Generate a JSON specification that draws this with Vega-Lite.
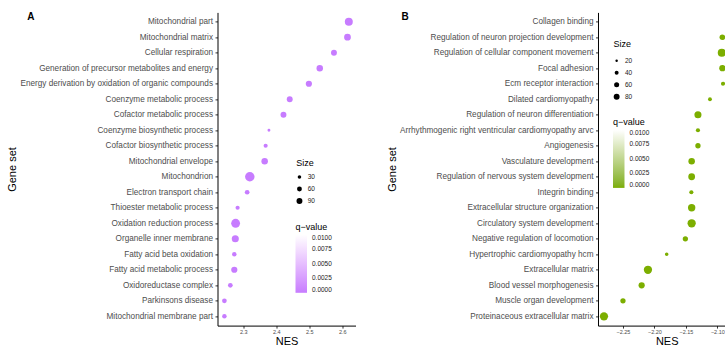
{
  "$schema": "https://vega.github.io/schema/vega-lite/v6.json",
  "padding": {"left": 5.5, "top": 12.4, "right": 0, "bottom": 0},
  "spacing": 30.5,
  "config": {
    "font": "Liberation Sans",
    "view": {"stroke": null},
    "axis": {"grid": false, "domainColor": "#000", "domainWidth": 1, "tickColor": "#333", "tickSize": 2.5, "labelColor": "#4D4D4D", "titleColor": "#000", "titleFontWeight": "normal", "titleFontSize": 11},
    "legend": {"padding": 0, "titleFontWeight": "normal", "titleFontSize": 9, "titleColor": "#000", "labelColor": "#222", "labelFontSize": 6.5}
  },
  "resolve": {"scale": {"x": "independent", "y": "independent", "color": "independent", "size": "independent", "shape": "independent"}, "legend": {"color": "independent", "size": "independent", "shape": "independent"}},
  "hconcat": [
    {
      "width": 138,
      "height": 313.2,
      "data": {"values": [
        {"panel": "A", "gene": "Mitochondrial part", "NES": 2.620, "size": 165, "q": 0},
        {"panel": "A", "gene": "Mitochondrial matrix", "NES": 2.616, "size": 118, "q": 0},
        {"panel": "A", "gene": "Cellular respiration", "NES": 2.575, "size": 89, "q": 0},
        {"panel": "A", "gene": "Generation of precursor metabolites and energy", "NES": 2.532, "size": 108, "q": 0},
        {"panel": "A", "gene": "Energy derivation by oxidation of organic compounds", "NES": 2.499, "size": 98, "q": 0},
        {"panel": "A", "gene": "Coenzyme metabolic process", "NES": 2.441, "size": 89, "q": 0},
        {"panel": "A", "gene": "Cofactor metabolic process", "NES": 2.422, "size": 89, "q": 0},
        {"panel": "A", "gene": "Coenzyme biosynthetic process", "NES": 2.378, "size": 19, "q": 0},
        {"panel": "A", "gene": "Cofactor biosynthetic process", "NES": 2.368, "size": 42, "q": 0},
        {"panel": "A", "gene": "Mitochondrial envelope", "NES": 2.365, "size": 108, "q": 0},
        {"panel": "A", "gene": "Mitochondrion", "NES": 2.320, "size": 235, "q": 0},
        {"panel": "A", "gene": "Electron transport chain", "NES": 2.312, "size": 55, "q": 0},
        {"panel": "A", "gene": "Thioester metabolic process", "NES": 2.283, "size": 42, "q": 0},
        {"panel": "A", "gene": "Oxidation reduction process", "NES": 2.277, "size": 204, "q": 0},
        {"panel": "A", "gene": "Organelle inner membrane", "NES": 2.276, "size": 129, "q": 0},
        {"panel": "A", "gene": "Fatty acid beta oxidation", "NES": 2.273, "size": 49, "q": 0},
        {"panel": "A", "gene": "Fatty acid metabolic process", "NES": 2.273, "size": 98, "q": 0},
        {"panel": "A", "gene": "Oxidoreductase complex", "NES": 2.261, "size": 55, "q": 0},
        {"panel": "A", "gene": "Parkinsons disease", "NES": 2.243, "size": 55, "q": 0},
        {"panel": "A", "gene": "Mitochondrial membrane part", "NES": 2.243, "size": 49, "q": 0}
      ]},
      "mark": {"type": "point", "filled": true, "opacity": 1},
      "encoding": {
        "x": {"field": "NES", "type": "quantitative", "scale": {"domain": [2.2221, 2.6403], "nice": false, "zero": false},
          "axis": {"title": "NES", "values": [2.3, 2.4, 2.5, 2.6], "format": ".1f", "labelFontSize": 5.5, "labelPadding": 1.2, "titlePadding": 0.5}},
        "y": {"field": "gene", "type": "nominal", "sort": null, "scale": {"type": "point", "padding": 0.6},
          "axis": {"title": "Gene set", "labelFontSize": 8.2, "labelPadding": 2.5, "labelLimit": 0, "titleX": -200}},
        "shape": {"field": "panel", "type": "nominal", "scale": {"range": ["circle"]},
          "legend": {"title": "A", "orient": "none", "legendX": -190.3, "legendY": 0, "titleFontSize": 10, "titleFontWeight": "bold", "symbolOpacity": 0, "labelOpacity": 0}},
        "size": {"field": "size", "type": "quantitative", "scale": {"domain": [0, 240], "range": [1.3, 92], "zero": false},
          "legend": {"title": "Size", "values": [30, 60, 90], "orient": "none", "legendX": 78.7, "legendY": 146.4, "symbolFillColor": "#000", "symbolStrokeWidth": 0, "symbolType": "circle", "symbolOpacity": 1, "rowPadding": 5, "labelOffset": 5, "titlePadding": 6}},
        "color": {"field": "q", "type": "quantitative", "scale": {"domain": [0, 0.01], "range": ["#C77CFF", "#FFFFFF"], "interpolate": "lab"},
          "legend": {"title": "q−value", "values": [0, 0.0025, 0.005, 0.0075, 0.01], "format": ".4f", "orient": "none", "direction": "vertical", "legendX": 78, "legendY": 210.4, "gradientLength": 58, "gradientThickness": 11.5, "gradientStrokeWidth": 0, "labelOffset": 5, "titlePadding": 3}}
      }
    },
    {
      "width": 127.7,
      "height": 313.2,
      "data": {"values": [
        {"panel": "B", "gene": "Collagen binding", "NES": -2.0816, "size": 60, "q": 0},
        {"panel": "B", "gene": "Regulation of neuron projection development", "NES": -2.092, "size": 72, "q": 0},
        {"panel": "B", "gene": "Regulation of cellular component movement", "NES": -2.093, "size": 138, "q": 0},
        {"panel": "B", "gene": "Focal adhesion", "NES": -2.092, "size": 87, "q": 0},
        {"panel": "B", "gene": "Ecm receptor interaction", "NES": -2.091, "size": 43, "q": 0},
        {"panel": "B", "gene": "Dilated cardiomyopathy", "NES": -2.1117, "size": 38, "q": 0},
        {"panel": "B", "gene": "Regulation of neuron differentiation", "NES": -2.1308, "size": 110, "q": 0},
        {"panel": "B", "gene": "Arrhythmogenic right ventricular cardiomyopathy arvc", "NES": -2.1308, "size": 43, "q": 0},
        {"panel": "B", "gene": "Angiogenesis", "NES": -2.1308, "size": 65, "q": 0},
        {"panel": "B", "gene": "Vasculature development", "NES": -2.1408, "size": 94, "q": 0},
        {"panel": "B", "gene": "Regulation of nervous system development", "NES": -2.1408, "size": 102, "q": 0},
        {"panel": "B", "gene": "Integrin binding", "NES": -2.1413, "size": 43, "q": 0},
        {"panel": "B", "gene": "Extracellular structure organization", "NES": -2.1408, "size": 118, "q": 0},
        {"panel": "B", "gene": "Circulatory system development", "NES": -2.1408, "size": 147, "q": 0},
        {"panel": "B", "gene": "Negative regulation of locomotion", "NES": -2.1508, "size": 65, "q": 0},
        {"panel": "B", "gene": "Hypertrophic cardiomyopathy hcm", "NES": -2.1805, "size": 34, "q": 0},
        {"panel": "B", "gene": "Extracellular matrix", "NES": -2.2103, "size": 147, "q": 0},
        {"panel": "B", "gene": "Blood vessel morphogenesis", "NES": -2.2203, "size": 87, "q": 0},
        {"panel": "B", "gene": "Muscle organ development", "NES": -2.25, "size": 65, "q": 0},
        {"panel": "B", "gene": "Proteinaceous extracellular matrix", "NES": -2.2802, "size": 147, "q": 0}
      ]},
      "mark": {"type": "point", "filled": true, "opacity": 1, "clip": true},
      "encoding": {
        "x": {"field": "NES", "type": "quantitative", "scale": {"domain": [-2.2897, -2.0867], "nice": false, "zero": false},
          "axis": {"title": "NES", "values": [-2.25, -2.2, -2.15, -2.1], "format": ".2f", "labelFontSize": 5.5, "labelPadding": 1.2, "titlePadding": 0.5, "titleX": 68.7}},
        "y": {"field": "gene", "type": "nominal", "sort": null, "scale": {"type": "point", "padding": 0.6},
          "axis": {"title": "Gene set", "labelFontSize": 8.2, "labelPadding": 2.5, "labelLimit": 0, "titleX": -200.3}},
        "shape": {"field": "panel", "type": "nominal", "scale": {"range": ["circle"]},
          "legend": {"title": "B", "orient": "none", "legendX": -196.6, "legendY": 0, "titleFontSize": 10, "titleFontWeight": "bold", "symbolOpacity": 0, "labelOpacity": 0}},
        "size": {"field": "size", "type": "quantitative", "scale": {"domain": [10, 100], "range": [1, 45], "zero": false},
          "legend": {"title": "Size", "values": [20, 40, 60, 80], "orient": "none", "legendX": 15.4, "legendY": 28.1, "symbolFillColor": "#000", "symbolStrokeWidth": 0, "symbolType": "circle", "symbolOpacity": 1, "rowPadding": 5, "labelOffset": 5, "titlePadding": 8}},
        "color": {"field": "q", "type": "quantitative", "scale": {"domain": [0, 0.01], "range": ["#7CAE00", "#FFFFFF"], "interpolate": "lab"},
          "legend": {"title": "q−value", "values": [0, 0.0025, 0.005, 0.0075, 0.01], "format": ".4f", "orient": "none", "direction": "vertical", "legendX": 15, "legendY": 105.5, "gradientLength": 58, "gradientThickness": 11.5, "gradientStrokeWidth": 0, "labelOffset": 5, "titlePadding": 3}}
      }
    }
  ]
}
